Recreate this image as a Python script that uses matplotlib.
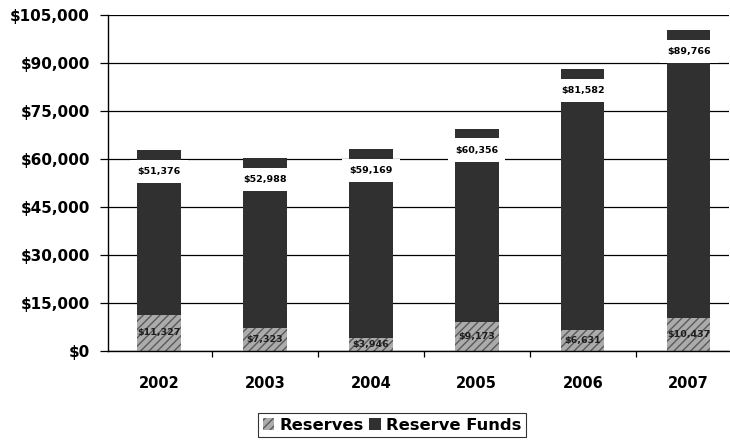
import matplotlib
matplotlib.use("Agg")
import matplotlib.pyplot as plt
from matplotlib.ticker import FuncFormatter, MultipleLocator
import numpy as np

plt.rcParams["font.family"] = ["DejaVu Sans"]
plt.rcParams["hatch.linewidth"] = 1.0

years = ["2002", "2003", "2004", "2005", "2006", "2007"]
reserves = [11327, 7323, 3946, 9173, 6631, 10437]
reserve_funds = [51376, 52988, 59169, 60356, 81582, 89766]

funds_color = "#303030"
reserves_color = "#ababab"

fig = plt.figure(figsize=(7.3, 4.43), dpi=100)
ax = fig.add_axes([108 / 730, 92 / 443, 621 / 730, 336 / 443])

x = np.arange(len(years))
width = 0.41

ax.bar(x, reserves, width, color=reserves_color, edgecolor="#5a5a5a",
       hatch="////", linewidth=0, label="Reserves", zorder=2)
ax.bar(x, reserve_funds, width, bottom=reserves, color=funds_color,
       linewidth=0, label="Reserve Funds", zorder=2)

# reserves labels sit in the middle of their segment
for xi, r in zip(x, reserves):
    ax.text(xi, r / 2, f"${r:,}", ha="center", va="center", fontsize=6.8,
            fontweight="bold", color="#1e1e1e", zorder=3)

# reserve funds labels: white box just under the top of the bar
for xi, r, f in zip(x, reserves, reserve_funds):
    ax.annotate(f"${f:,}", xy=(xi, r + f), xytext=(0, -15.5),
                textcoords="offset points", ha="center", va="center",
                fontsize=6.8, fontweight="bold", color="black", zorder=4,
                bbox=dict(boxstyle="square,pad=0.75", facecolor="white",
                          edgecolor="none"))

ax.set_ylim(0, 105000)
ax.set_xlim(-0.48, 5.38)
ax.yaxis.set_major_locator(MultipleLocator(15000))
ax.yaxis.set_major_formatter(FuncFormatter(lambda v, p: f"${v:,.0f}"))
ax.grid(axis="y", color="black", linewidth=0.9, zorder=0)
ax.set_axisbelow(True)

ax.set_xticks(x)
ax.set_xticklabels(years)
ax.set_xticks(x[:-1] + 0.5, minor=True)
ax.tick_params(axis="x", which="major", length=0, pad=18, labelsize=10.5)
ax.tick_params(axis="x", which="minor", length=4, width=0.9, direction="out")
ax.tick_params(axis="y", length=6, width=0.9, direction="out", pad=7,
               labelsize=11)
for lab in ax.get_xticklabels() + ax.get_yticklabels():
    lab.set_fontweight("bold")

for side in ["top", "right"]:
    ax.spines[side].set_visible(False)
ax.spines["left"].set_linewidth(1.0)
ax.spines["bottom"].set_linewidth(1.0)

leg = fig.legend(loc="center", bbox_to_anchor=(392 / 730, 18 / 443), ncol=2,
                 frameon=True, fancybox=False, edgecolor="black",
                 prop={"weight": "bold", "size": 11.8}, handlelength=0.7,
                 handleheight=0.7, handletextpad=0.3, columnspacing=0.35,
                 borderpad=0.3)
leg.get_frame().set_linewidth(0.8)

fig.savefig("out.png", dpi=100)
